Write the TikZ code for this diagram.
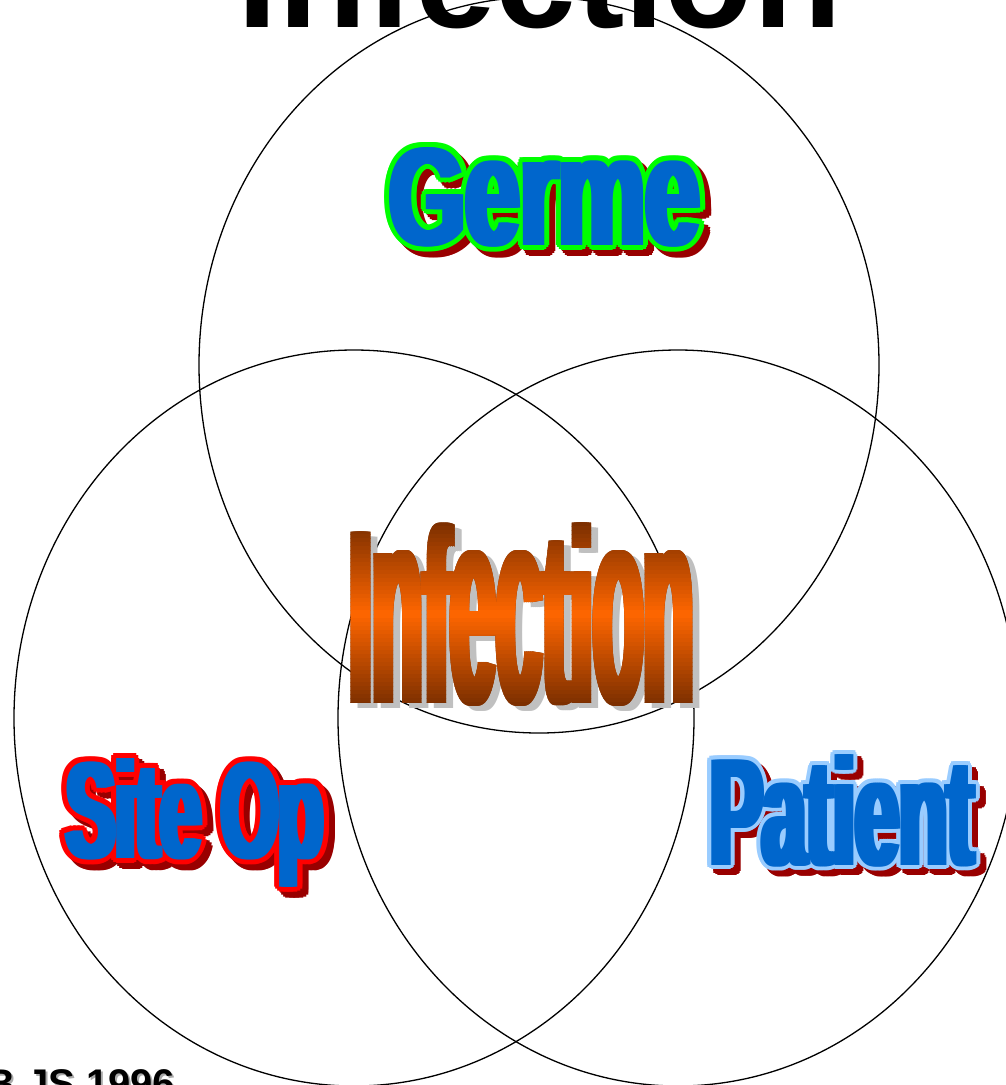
\documentclass[tikz,border=0pt]{standalone}
\usepackage{fontspec}
\setmainfont{Liberation Sans}
\usepackage{graphicx}
\definecolor{wablue}{HTML}{0066CC}
\definecolor{wagreen}{HTML}{00FF00}
\definecolor{wared}{HTML}{FF0000}
\definecolor{wadark}{HTML}{990000}
\definecolor{walight}{HTML}{99CCFF}
\definecolor{wabrown}{HTML}{7A2E00}
\definecolor{waorange}{HTML}{FF6600}
\definecolor{wagray}{HTML}{C0C0C0}
\definecolor{wshadow}{HTML}{AAAAAA}
\newcommand\Gtxt{\fontsize{140}{140}\selectfont\bfseries\scalebox{0.70}[1]{G}\scalebox{0.70}[1.12]{erme}}
\newcommand\Stxt{\fontsize{138}{138}\selectfont\bfseries\scalebox{0.534}[1]{Site Op}}
\newcommand\Ptxt{\fontsize{153}{153}\selectfont\bfseries\scalebox{0.517}[1]{Patient}}
\newcommand\Itxt{\fontsize{249}{249}\selectfont\bfseries\scalebox{0.332}[1]{I}\scalebox{0.332}[1.14]{n}\scalebox{0.332}[1]{f}\scalebox{0.332}[1.14]{ec}\scalebox{0.332}[1]{ti}\scalebox{0.332}[1.14]{on}}
% #1 x, #2 baseline y, #3 text, #4 fill, #5 outline colour, #6 outline radius, #7 shadow colour, #8 shadow dx, #9 shadow dy
\newcommand\artword[9]{%
  \foreach \dx in {-4,0,4}{\foreach \a in {0,30,...,330}{%
    \node[art,text=#7,shift={(\a:#6)},xshift=\dx] at (#1+#8,#2+#9) {#3};}}%
  \foreach \dx in {-4,0,4}{\foreach \a in {0,30,...,330}{%
    \node[art,text=#5,shift={(\a:#6)},xshift=\dx] at (#1,#2) {#3};}}%
  \foreach \dx in {-4,-2,0,2,4}{%
    \node[art,text=#4,xshift=\dx] at (#1,#2) {#3};}%
}
\begin{document}
\begin{tikzpicture}[x=1pt,y=-1pt,
  ring/.style={draw=black,line width=1.3pt},
  art/.style={anchor=base,inner sep=0pt,outer sep=0pt}]
\useasboundingbox[fill=white] (0,0) rectangle (1005,1085);
% title
\node[art,font=\fontsize{145}{145}\selectfont\bfseries] (title) at (540,27) {Infection};
% footer
\node[anchor=base west,inner sep=0pt,text=wshadow,font=\fontsize{40}{40}\selectfont\bfseries] at (-12,1099) {B JS 1996};
\node[anchor=base west,inner sep=0pt,font=\fontsize{40}{40}\selectfont\bfseries] (footer) at (-14,1097) {B JS 1996};
% circles
\draw[ring] (539,365) ellipse [x radius=340pt, y radius=368pt];
\draw[ring] (354,718) ellipse [x radius=340pt, y radius=368pt];
\draw[ring] (678,718) ellipse [x radius=340pt, y radius=368pt];
% word art
\artword{545}{245}{\Gtxt}{wablue}{wagreen}{5}{wadark}{6}{6}
\artword{195}{858}{\Stxt}{wablue}{wared}{5}{wadark}{6}{6}
\artword{842}{865}{\Ptxt}{wablue}{walight}{4}{wadark}{6}{6}
% Infection: grey shadow + vertical gradient
\foreach \dx in {-4,-2,0,2,4}{\node[art,text=wagray,xshift=\dx] at (529,708) {\Itxt};}
\foreach \dx in {-4,-2,0,2,4}{\node[art,text=wabrown,xshift=\dx] at (522,703) {\Itxt};}
\foreach \i in {0,...,45}{
  \pgfmathsetmacro\ya{522+4*\i}
  \pgfmathsetmacro\yb{\ya+4.4}
  \pgfmathsetmacro\p{100*(1-abs(2*(4*\i+2)/184-1))}
  \begin{scope}
    \clip (300,\ya) rectangle (740,\yb);
    \foreach \dx in {-4,-2,0,2,4}{\node[art,text=waorange!\p!wabrown,xshift=\dx] at (522,703) {\Itxt};}
  \end{scope}
}
\node[art,opacity=0] (infection) at (522,703) {\Itxt};
\end{tikzpicture}
\end{document}
